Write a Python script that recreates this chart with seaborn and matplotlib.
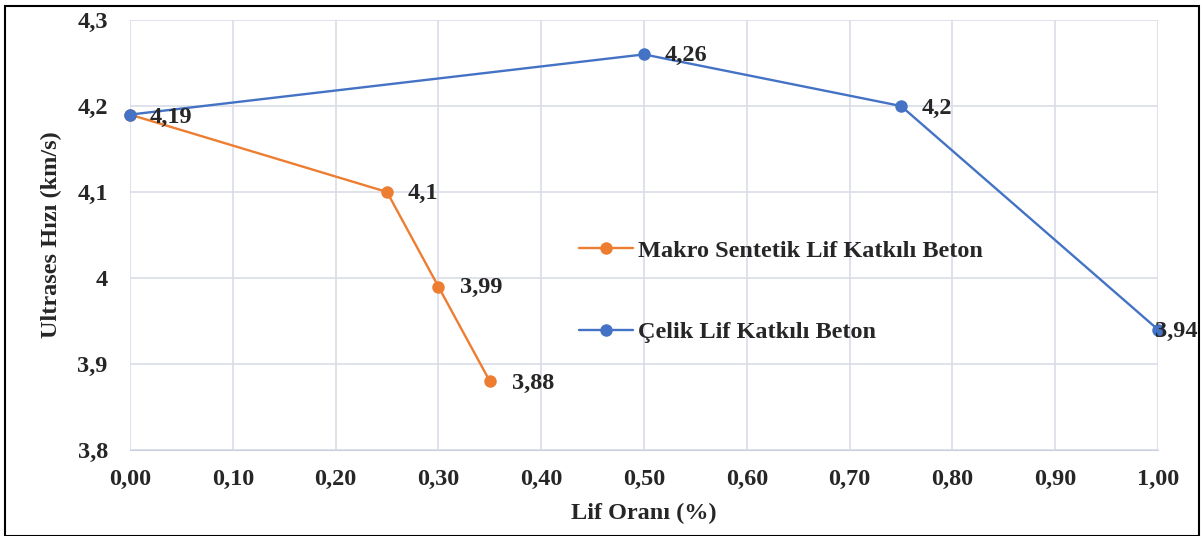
import matplotlib
matplotlib.use("Agg")
import matplotlib.pyplot as plt
import seaborn as sns
import pandas as pd
from matplotlib.patches import Rectangle

# Data
makro_x = [0.00, 0.25, 0.30, 0.35]
makro_y = [4.19, 4.10, 3.99, 3.88]
celik_x = [0.00, 0.50, 0.75, 1.00]
celik_y = [4.19, 4.26, 4.20, 3.94]
makro_label = "Makro Sentetik Lif Katkılı Beton"
celik_label = "Çelik Lif Katkılı Beton"
x_ticks = [0.0, 0.1, 0.2, 0.3, 0.4, 0.5, 0.6, 0.7, 0.8, 0.9, 1.0]
y_ticks = [3.8, 3.9, 4.0, 4.1, 4.2, 4.3]
x_title = "Lif Oranı (%)"
y_title = "Ultrases Hızı (km/s)"

sns.set_style("white")
plt.rcParams['font.family'] = ['Liberation Serif', 'DejaVu Serif']
plt.rcParams['font.weight'] = 'bold'

df = pd.concat([
    pd.DataFrame({"x": makro_x, "y": makro_y, "s": makro_label}),
    pd.DataFrame({"x": celik_x, "y": celik_y, "s": celik_label}),
])

orange = "#ED7D31"
blue = "#4472C4"
grid_c = "#D9DDE6"
FS = 17.5

fig = plt.figure(figsize=(12.02, 5.36), dpi=100)
ax = fig.add_axes([130/1202, 1-450/536, (1158-130)/1202, (450-20)/536])

sns.lineplot(data=df, x="x", y="y", hue="s", hue_order=[makro_label, celik_label],
             palette=[orange, blue], marker="o", markersize=9, markeredgewidth=0,
             linewidth=1.7, sort=False, ax=ax, zorder=3, clip_on=False)

def ytxt(v):
    s = f"{v:.1f}"
    if s.endswith(".0"):
        s = s[:-2]
    return s.replace(".", ",")

ax.set_xlim(0, 1.0)
ax.set_ylim(3.8, 4.3)
ax.set_xticks(x_ticks)
ax.set_yticks(y_ticks)
ax.set_xticklabels([f"{v:.2f}".replace(".", ",") for v in x_ticks])
ax.set_yticklabels([ytxt(v) for v in y_ticks])
ax.tick_params(axis="both", length=0, labelsize=FS)
ax.tick_params(axis="x", pad=14)
ax.tick_params(axis="y", pad=16)
for lab in ax.get_xticklabels() + ax.get_yticklabels():
    lab.set_fontweight("bold")
ax.grid(True, color=grid_c, linewidth=1.2)
for sp in ax.spines.values():
    sp.set_visible(False)
ax.spines["bottom"].set_visible(True)
ax.spines["bottom"].set_color("#C9D0DE")
ax.set_xlabel(x_title, fontsize=FS, fontweight="bold", labelpad=9)
ax.set_ylabel(y_title, fontsize=FS, fontweight="bold", labelpad=11)

def fmt(v):
    s = f"{v:.2f}".rstrip("0").rstrip(".")
    return s.replace(".", ",")

makro_off = [(20, -3), (21, -1), (22, -1), (22, -2)]
celik_off = [(20, -3), (21, -1), (21, -2), (-3, -2)]
for xs, ys, offs in [(makro_x[1:], makro_y[1:], makro_off[1:]), (celik_x, celik_y, celik_off)]:
    for xv, yv, off in zip(xs, ys, offs):
        ax.annotate(fmt(yv), (xv, yv), xytext=off, textcoords="offset pixels",
                    ha="left", va="center", fontsize=FS, fontweight="bold", zorder=5)

leg = ax.legend(loc="upper left", bbox_to_anchor=((569-130)/1028, (450-230)/430),
                frameon=False, fontsize=FS, labelspacing=2.45, handlelength=2.25,
                handletextpad=0.2, borderaxespad=0)
for t in leg.get_texts():
    t.set_fontweight("bold")

fig.patches.append(Rectangle((5/1202, 0), 1194/1202, 1-6/536, transform=fig.transFigure,
                             fill=False, edgecolor="black", linewidth=1.5))

fig.savefig("out.png", dpi=100)
